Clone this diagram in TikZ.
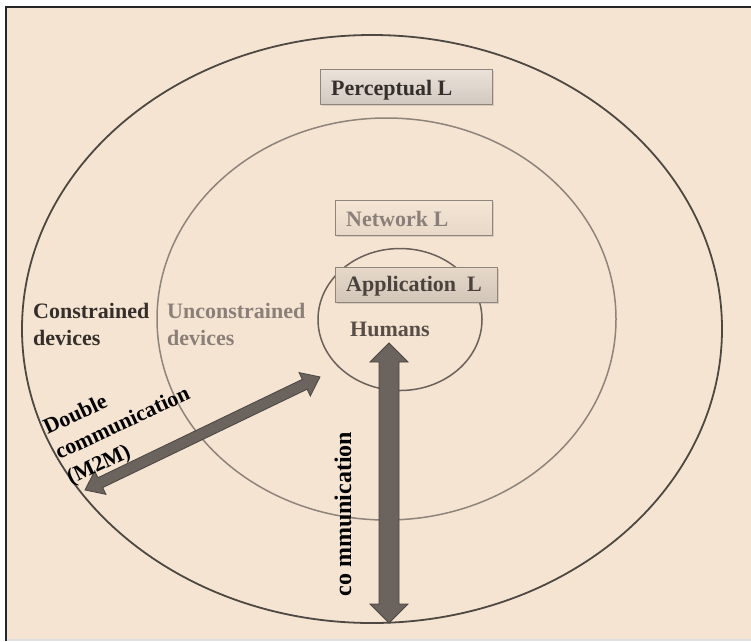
\documentclass[tikz,border=0pt]{standalone}
\usepackage{fontspec}
\setmainfont{Liberation Serif}
\usetikzlibrary{shadows}

\definecolor{paper}{HTML}{F5E4D2}
\definecolor{ringdark}{HTML}{4E4842}
\definecolor{ringmid}{HTML}{8E847B}
\definecolor{ringin}{HTML}{6A615A}
\definecolor{arrowfill}{HTML}{6B645E}
\definecolor{arrowline}{HTML}{4A4540}
\definecolor{txtdark}{HTML}{352F2B}
\definecolor{txtgrey}{HTML}{8A8079}
\definecolor{txtmid}{HTML}{574E48}
\definecolor{boxline}{HTML}{8E857C}

\tikzset{
  lbl/.style={font=\bfseries\fontsize{22}{27}\selectfont, inner sep=0pt, align=left},
  layerbox/.style={draw=boxline, line width=0.9pt, minimum height=35pt, inner sep=0pt,
    anchor=north west, drop shadow={shadow xshift=1.5pt, shadow yshift=-2pt, opacity=0.25}},
  bigarrow/.style={fill=arrowfill, draw=arrowline, line width=0.8pt, line join=miter}
}

\begin{document}
\begin{tikzpicture}[x=1pt, y=-1pt]
  % page and frame
  \fill[white] (0,0) rectangle (751,641);
  \useasboundingbox (0,0) rectangle (751,641);
  \fill[paper] (5.5,7) rectangle (751,639);
  \fill[black!12] (5.5,639) rectangle (751,641);
  \draw[black!85, line width=2pt] (5.5,641) -- (5.5,7) -- (751,7);

  % rings
  \draw[ringdark, line width=1.8pt] (372,329) ellipse [x radius=350, y radius=294];
  \draw[ringmid, line width=1.5pt] (386.5,319) ellipse [x radius=229.5, y radius=201];
  \draw[ringin, line width=1.5pt] (400,319.5) ellipse [x radius=82, y radius=71];

  % layer boxes
  \node[layerbox, minimum width=172pt, top color=paper!80!gray!60, bottom color=paper!60!gray!80] (perc) at (320,69) {};
  \node[lbl, txtdark, anchor=base west] (percT) at (331,95) {Perceptual L};

  \node[layerbox, minimum width=157pt, top color=paper!97!white, bottom color=paper!88!gray] (net) at (335,200) {};
  \node[lbl, txtgrey, anchor=base west] (netT) at (346,226) {Network L};

  \node[layerbox, minimum width=162pt, top color=paper!88!gray, bottom color=paper!70!gray] (app) at (335,267) {};
  \node[lbl, txtmid!85!black, anchor=base west] (appT) at (346,291) {Application\ \ L};

  % region labels (base anchor sits on the last line)
  \node[lbl, txtdark, anchor=base west] (cons) at (33,345) {Constrained\\devices};
  \node[lbl, txtgrey, anchor=base west] (uncons) at (167,345) {Unconstrained\\devices};
  \node[lbl, txtmid, anchor=base west] (hum) at (350,336) {Humans};

  % arrow end points
  \coordinate (humTip) at (389,343);
  \coordinate (outTip) at (389,623);
  \coordinate (m2mIn) at (320,377);
  \coordinate (m2mOut) at (85,490);

  % vertical double arrow: humans <-> outer ring
  \begin{scope}[shift={(humTip)}]
    \filldraw[bigarrow] (0,0) -- (19,19) -- (10,19) -- (10,261) -- (19,261) -- (0,280)
      -- (-19,261) -- (-10,261) -- (-10,19) -- (-19,19) -- cycle;
  \end{scope}

  % diagonal double arrow: machine to machine
  \begin{scope}[shift={(m2mOut)}, rotate=25.7]
    \filldraw[bigarrow] (0,0) -- (17,-13) -- (17,-5.5) -- (243.8,-5.5) -- (243.8,-13) -- (260.8,0)
      -- (243.8,13) -- (243.8,5.5) -- (17,5.5) -- (17,13) -- cycle;
  \end{scope}

  % arrow captions
  \node[lbl, text=black, rotate=90, font=\bfseries\fontsize{24}{28}\selectfont] (commT) at (343,514) {co mmunication};
  \node[lbl, text=black, rotate=25, anchor=north west, font=\bfseries\fontsize{22}{27.5}\selectfont]
    (m2mT) at (41,421) {Double\\communication\\(M2M)};
\end{tikzpicture}
\end{document}
